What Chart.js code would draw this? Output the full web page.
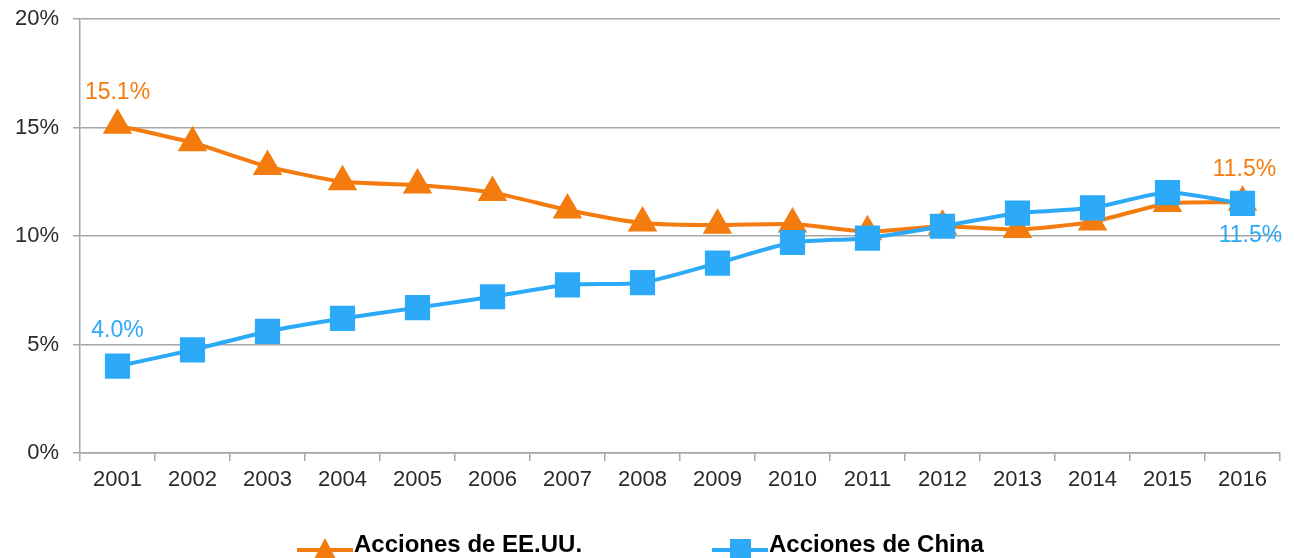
<!DOCTYPE html>
<html>
<head>
<meta charset="utf-8">
<script src="https://cdn.jsdelivr.net/npm/chart.js@4"></script>
<style>
html,body{margin:0;padding:0;background:#fff;}
#wrap{width:1294px;height:558px;position:relative;}
</style>
</head>
<body>
<div id="wrap"><canvas id="c" width="1294" height="558"></canvas></div>
<script>
const years = ['2001','2002','2003','2004','2005','2006','2007','2008','2009','2010','2011','2012','2013','2014','2015','2016'];
const usStocks = [15.1,14.3,13.2,12.5,12.35,12.0,11.2,10.6,10.5,10.55,10.2,10.45,10.3,10.65,11.5,11.55];
const chinaStocks = [4.0,4.75,5.6,6.2,6.7,7.2,7.75,7.85,8.75,9.7,9.9,10.45,11.05,11.3,12.0,11.5];
const seriesNames = ['Acciones de EE.UU.','Acciones de China'];
const yTicks = [0,5,10,15,20];
const dataLabels = [
  {ds:0, idx:0, text:'15.1%', dx:0, dy:-33},
  {ds:1, idx:0, text:'4.0%', dx:0, dy:-36},
  {ds:0, idx:15, text:'11.5%', dx:2, dy:-33},
  {ds:1, idx:15, text:'11.5%', dx:8, dy:32}
];

const ORANGE = '#F47B0E';
const BLUE = '#2CA9F7';
const FONT = '"Liberation Sans", Arial, sans-serif';
const zeroPad = () => ({left:0, right:0, top:0, bottom:0});

const labelPlugin = {
  id:'labels',
  afterDatasetsDraw(chart){
    const ctx = chart.ctx;
    ctx.save();
    ctx.font = '23px ' + FONT;
    ctx.textAlign = 'center';
    ctx.textBaseline = 'middle';
    dataLabels.forEach(l=>{
      const pt = chart.getDatasetMeta(l.ds).data[l.idx];
      ctx.fillStyle = chart.data.datasets[l.ds].borderColor;
      ctx.fillText(l.text, pt.x + l.dx, pt.y + l.dy);
    });
    ctx.restore();
  }
};

const legendPlugin = {
  id:'customLegend',
  afterDraw(chart){
    const ctx = chart.ctx;
    const items = [
      {x:297, color:ORANGE, style:'triangle'},
      {x:712, color:BLUE, style:'rect'}
    ];
    const y = 547;
    ctx.save();
    items.forEach((it,i)=>{
      ctx.strokeStyle = it.color;
      ctx.lineWidth = 4;
      ctx.beginPath();
      ctx.moveTo(it.x, y+3);
      ctx.lineTo(it.x+56, y+3);
      ctx.stroke();
      ctx.fillStyle = it.color;
      const cx = it.x+28;
      if(it.style==='triangle'){
        ctx.beginPath();
        ctx.moveTo(cx, y-9);
        ctx.lineTo(cx+12, y+14);
        ctx.lineTo(cx-12, y+14);
        ctx.closePath();
        ctx.fill();
      } else {
        ctx.fillRect(cx-10, y-8, 21, 22);
      }
      ctx.fillStyle = '#000';
      ctx.font = 'bold 24px ' + FONT;
      ctx.textAlign = 'left';
      ctx.textBaseline = 'middle';
      ctx.fillText(chart.data.datasets[i].label, it.x+57, y-2);
    });
    ctx.restore();
  }
};

new Chart(document.getElementById('c'), {
  type:'line',
  data:{
    labels: years,
    datasets:[
      {label:seriesNames[0], data:usStocks, borderColor:ORANGE, backgroundColor:ORANGE, order:1,
       borderWidth:4, pointStyle:'triangle', pointRadius:13, pointHoverRadius:13, tension:0.2},
      {label:seriesNames[1], data:chinaStocks, borderColor:BLUE, backgroundColor:BLUE, order:0,
       borderWidth:4, pointStyle:'rect', pointRadius:15, pointHoverRadius:15, tension:0.2}
    ]
  },
  options:{
    responsive:false,
    animation:false,
    events:[],
    layout:{autoPadding:false, padding:{left:0, right:14, top:19, bottom:55}},
    plugins:{legend:{display:false}, tooltip:{enabled:false}},
    scales:{
      x:{
        offset:true,
        grid:{offset:true, drawOnChartArea:false, drawTicks:true, tickLength:8, color:'#a6a6a6', lineWidth:1.5},
        border:{color:'#a6a6a6', width:1.5},
        ticks:{font:{family:FONT, size:22}, color:'#2b2b2b', padding:6, maxRotation:0, autoSkip:false},
        afterFit(s){ s.height = 50; s.paddingLeft = 0; s.paddingRight = 0; s.getPadding = zeroPad; }
      },
      y:{
        min:0, max:20,
        afterBuildTicks(s){ s.ticks = yTicks.map(v=>({value:v})); },
        grid:{color:'#a6a6a6', lineWidth:1.5, tickLength:7},
        border:{color:'#a6a6a6', width:1.5},
        ticks:{font:{family:FONT, size:22}, color:'#2b2b2b', padding:14, callback:v=>v+'%'},
        afterFit(s){ s.width = 80; s.paddingTop = 0; s.paddingBottom = 0; s.getPadding = zeroPad; }
      }
    }
  },
  plugins:[labelPlugin, legendPlugin]
});
</script>
</body>
</html>
